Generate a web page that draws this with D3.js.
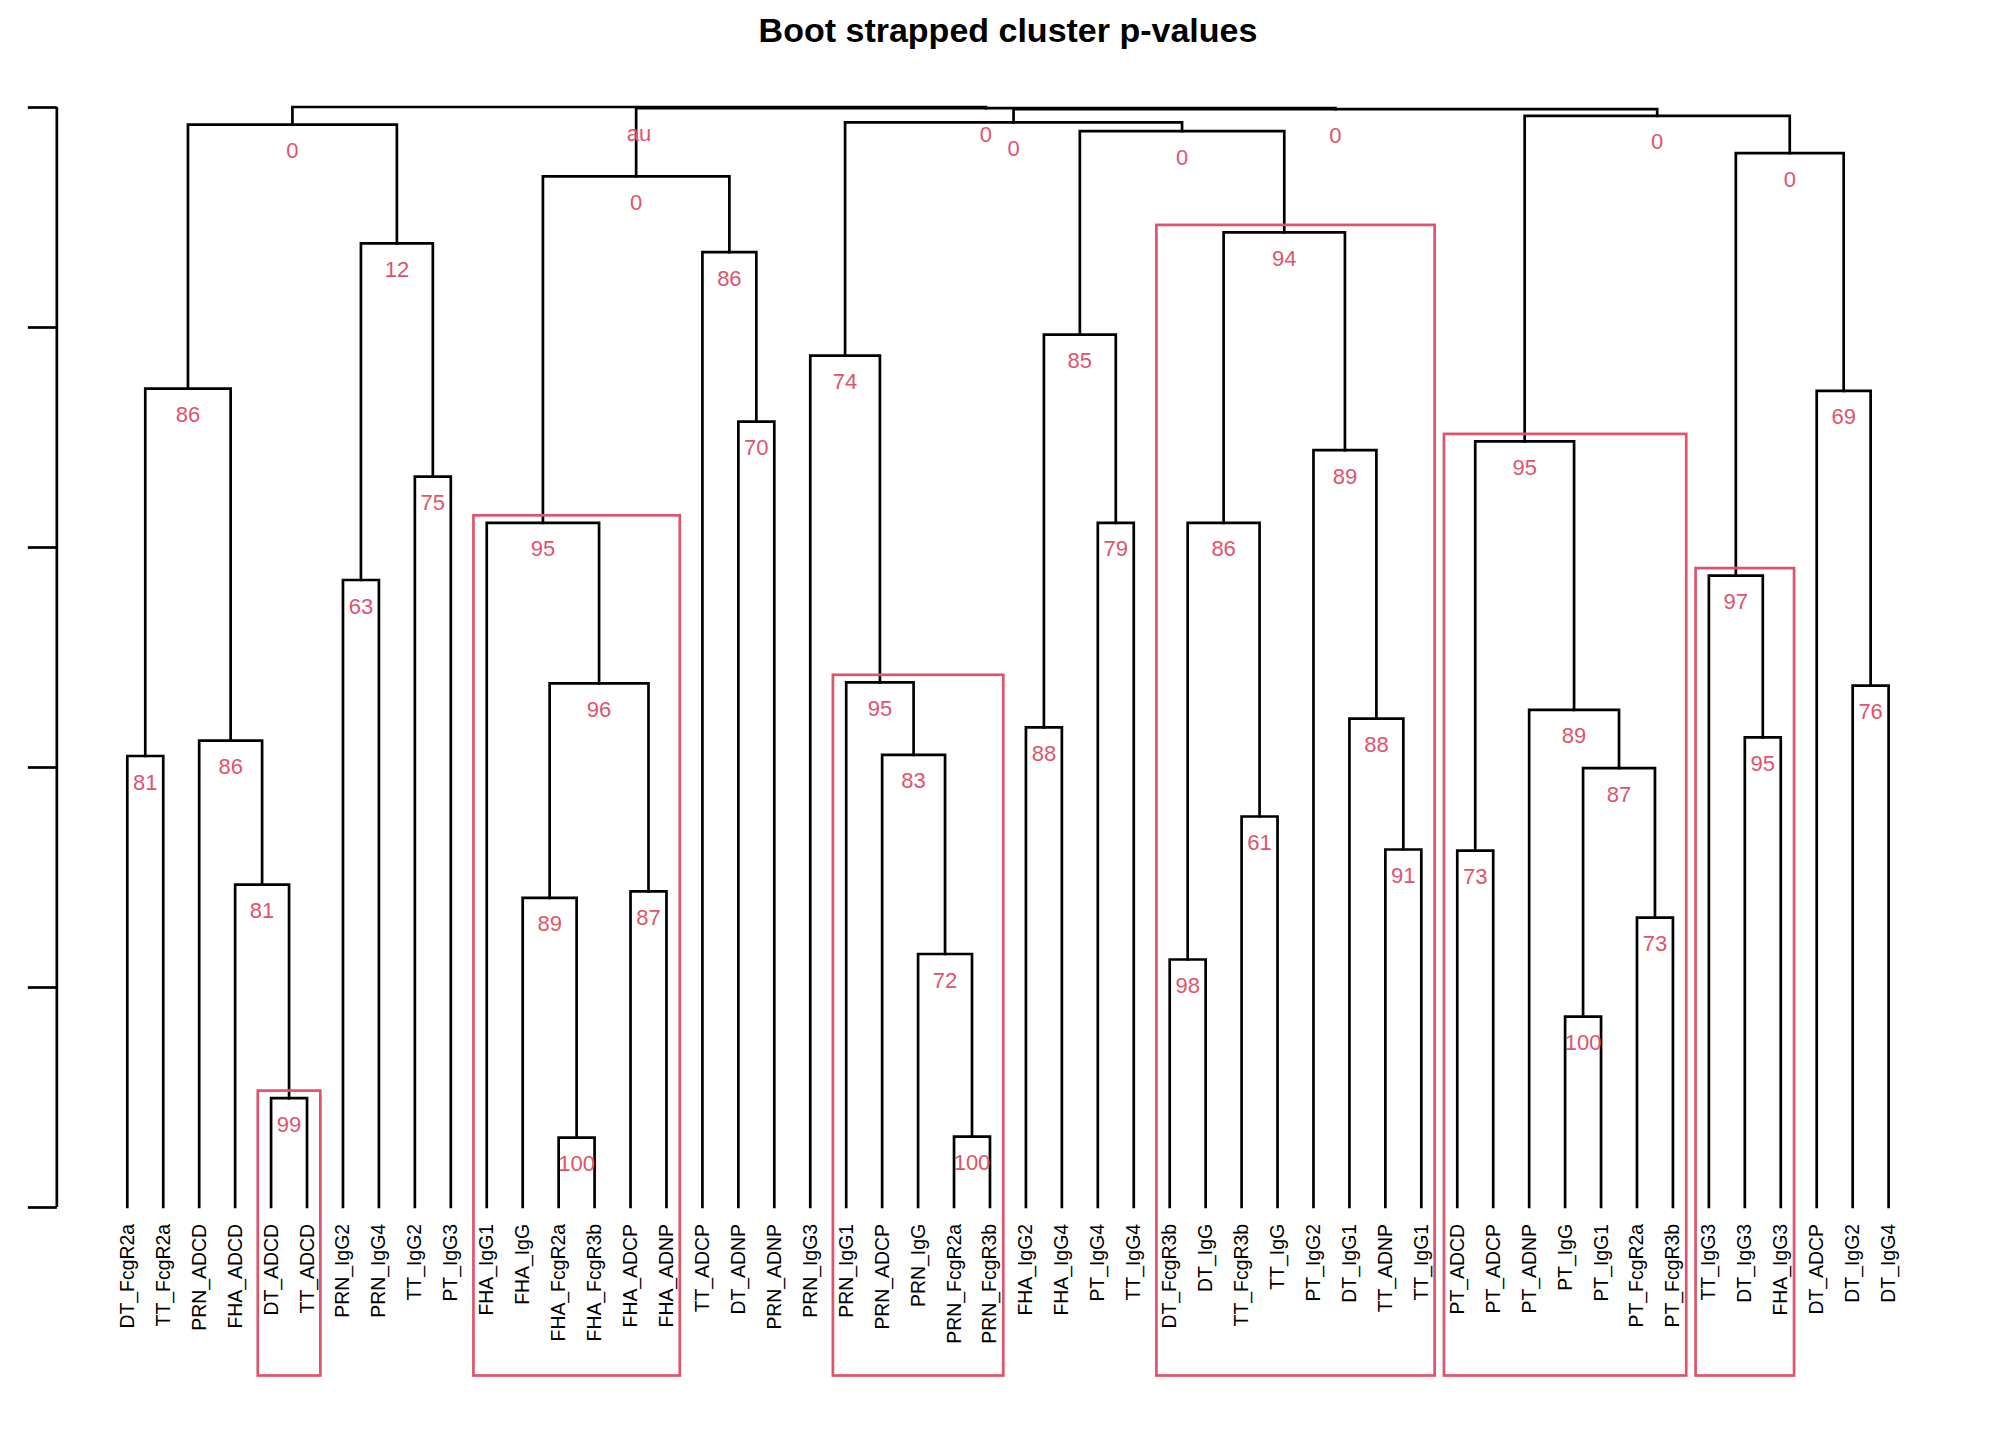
<!DOCTYPE html>
<html><head><meta charset="utf-8">
<script src="https://cdn.jsdelivr.net/npm/d3@7"></script>
<style>body{margin:0;background:#fff}</style>
</head><body>
<svg id="chart" width="2016" height="1440"></svg>
<script>
// ---- data ----
const title = "Boot strapped cluster p-values";
const leafLabels = [
  "DT_FcgR2a","TT_FcgR2a","PRN_ADCD","FHA_ADCD","DT_ADCD","TT_ADCD","PRN_IgG2","PRN_IgG4","TT_IgG2","PT_IgG3",
  "FHA_IgG1","FHA_IgG","FHA_FcgR2a","FHA_FcgR3b","FHA_ADCP","FHA_ADNP","TT_ADCP","DT_ADNP","PRN_ADNP","PRN_IgG3",
  "PRN_IgG1","PRN_ADCP","PRN_IgG","PRN_FcgR2a","PRN_FcgR3b","FHA_IgG2","FHA_IgG4","PT_IgG4","TT_IgG4","DT_FcgR3b",
  "DT_IgG","TT_FcgR3b","TT_IgG","PT_IgG2","DT_IgG1","TT_ADNP","TT_IgG1","PT_ADCD","PT_ADCP","PT_ADNP",
  "PT_IgG","PT_IgG1","PT_FcgR2a","PT_FcgR3b","TT_IgG3","DT_IgG3","FHA_IgG3","DT_ADCP","DT_IgG2","DT_IgG4"
];
// merges, R style: negative = leaf (display position), positive = earlier merge row (1-based)
const mergeLeft  = [-5, -4, -3, -1, 4, -7, -9, 6, 5, -13, -12, -15, 11, -11, -18, -17, 14, -24, -23, -22, -21, -20, -26, -28, 23,
                    -30, -32, 26, -36, -35, -34, 28, 25, 22, -41, -43, 35, -40, -38, 39, -46, -45, -49, -48, 42, 40, 34, 17, 9];
const mergeRight = [-6, 1, 2, -2, 3, -8, -10, 7, 8, -14, 10, -16, 12, 13, -19, 15, 16, -25, 18, 19, 20, 21, -27, -29, 24,
                    -31, -33, 27, -37, 29, 30, 31, 32, 33, -42, -44, 36, 37, -39, 38, -47, 41, -50, 43, 44, 45, 46, 47, 48];
const mergeHeight = [0.099, 0.293, 0.424, 0.410, 0.744, 0.570, 0.664, 0.876, 0.984, 0.063, 0.281, 0.287, 0.476, 0.622, 0.714,
                     0.868, 0.937, 0.064, 0.230, 0.411, 0.477, 0.774, 0.436, 0.622, 0.793, 0.225, 0.355, 0.622, 0.325, 0.444,
                     0.688, 0.886, 0.978, 0.986, 0.173, 0.263, 0.399, 0.452, 0.324, 0.696, 0.427, 0.574, 0.474, 0.742, 0.958,
                     0.992, 0.998, 0.999, 1.000];
const auValues = [99, 81, 86, 81, 86, 63, 75, 12, 0, 100, 89, 87, 96, 95, 70, 86, 0, 100, 72, 83, 95, 74, 88, 79, 85,
                  98, 61, 86, 91, 88, 89, 94, 0, 0, 100, 73, 87, 89, 73, 95, 95, 97, 76, 69, 0, 0, 0, 0, null];
const yTicks = [0, 0.2, 0.4, 0.6, 0.8, 1.0];
const alpha = 94;

// ---- drawing ----
const svg = d3.select("#chart");
const red = "#DF536B";
const font = "'Liberation Sans', Arial, sans-serif";
const lw = 2.7;
const n = leafLabels.length;
const x = d3.scaleLinear().domain([1, n]).range([127.3, 1888.6]);
const y = d3.scaleLinear().domain([0, 1]).range([1207, 107]);
const step = x(2) - x(1);

// node positions
const nodePos = [];   // merge row -> {x, h, min, max}
function childInfo(c) {
  if (c < 0) return {x: -c, h: 0, min: -c, max: -c};
  return nodePos[c - 1];
}
mergeLeft.forEach((l, i) => {
  const a = childInfo(l), b = childInfo(mergeRight[i]);
  nodePos.push({x: (a.x + b.x) / 2, h: mergeHeight[i], min: Math.min(a.min, b.min), max: Math.max(a.max, b.max)});
});

// title
svg.append("text").attr("x", 1008).attr("y", 42).attr("text-anchor", "middle")
  .attr("font-family", font).attr("font-weight", "bold").attr("font-size", 34).text(title);

// axis (ticks, no labels)
const axisX = x(1) - 0.04 * (n - 1) * step;
const ax = svg.append("g").attr("transform", `translate(${axisX},0)`)
  .call(d3.axisLeft(y).tickValues(yTicks).tickSize(29).tickFormat(""));
ax.select(".domain").attr("stroke", "#000").attr("stroke-width", lw).attr("d", `M0,${y(0)}V${y(1)}`);
ax.selectAll(".tick line").attr("stroke", "#000").attr("stroke-width", lw);

// tree
const g = svg.append("g").attr("fill", "none").attr("stroke", "#000").attr("stroke-width", lw)
  .attr("stroke-linecap", "square");
nodePos.forEach((p, i) => {
  const a = childInfo(mergeLeft[i]), b = childInfo(mergeRight[i]);
  const d = `M${x(a.x)},${y(a.h)}V${y(p.h)}H${x(b.x)}V${y(b.h)}`;
  g.append("path").attr("d", d);
});

// au values
nodePos.forEach((p, i) => {
  svg.append("text").attr("x", x(p.x)).attr("y", y(p.h) + 33.5).attr("text-anchor", "middle")
    .attr("font-family", font).attr("font-size", 22).attr("fill", red)
    .text(auValues[i] === null ? "au" : auValues[i]);
});

// leaf labels
leafLabels.forEach((lab, i) => {
  svg.append("text").attr("transform", `translate(${x(i + 1) + 6.5},1224) rotate(-90)`)
    .attr("text-anchor", "end").attr("font-family", font).attr("font-size", 19.4).attr("fill", "#000").text(lab);
});

// pvrect (max only)
const boxed = [];
for (let i = nodePos.length - 1; i >= 0; i--) {
  const v = auValues[i];
  if (v === null || v < alpha) continue;
  const p = nodePos[i];
  if (boxed.some(b => p.min >= b.min && p.max <= b.max)) continue;
  boxed.push(p);
}
boxed.forEach(p => {
  const x0 = x(p.min) - 0.37 * step, x1 = x(p.max) + 0.37 * step;
  const y0 = y(p.h) - 7.5, y1 = 1375.5;
  svg.append("rect").attr("x", x0).attr("y", y0).attr("width", x1 - x0).attr("height", y1 - y0)
    .attr("fill", "none").attr("stroke", red).attr("stroke-width", lw);
});
</script>
</body></html>
